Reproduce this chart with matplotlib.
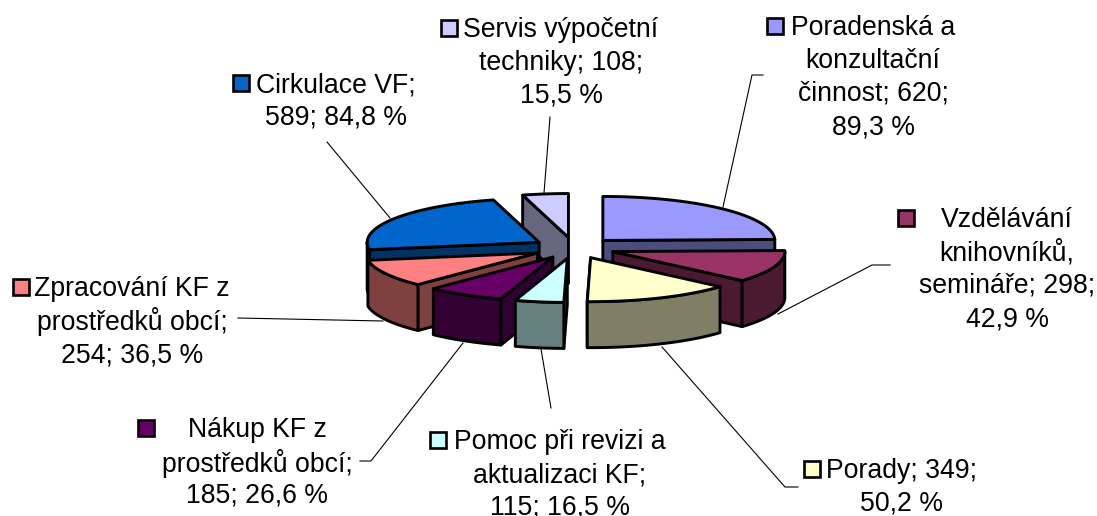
import numpy as np
import matplotlib
matplotlib.use("Agg")
import matplotlib.pyplot as plt
from matplotlib.patches import Polygon, Rectangle

plt.rcParams["font.family"] = ["Liberation Sans", "DejaVu Sans"]

# hodnoty z grafu
categories = ["Poradenská a konzultační činnost", "Vzdělávání knihovníků, semináře", "Porady",
              "Pomoc při revizi a aktualizaci KF", "Nákup KF z prostředků obcí",
              "Zpracování KF z prostředků obcí", "Cirkulace VF", "Servis výpočetní techniky"]
values = [620, 298, 349, 115, 185, 254, 589, 108]
percents = ["89,3", "42,9", "50,2", "16,5", "26,6", "36,5", "84,8", "15,5"]
top_colors = ["#9999FF", "#993366", "#FFFFCC", "#CCFFFF", "#660066", "#FF8080", "#0066CC", "#CCCCFF"]
wall_colors = ["#4C4C7F", "#4C1933", "#7F7F66", "#667F7F", "#330033", "#7F4040", "#003366", "#66667F"]

label_lines = [
    ["Poradenská a", "konzultační", "činnost; 620;", "89,3 %"],
    ["Vzdělávání", "knihovníků,", "semináře; 298;", "42,9 %"],
    ["Porady; 349;", "50,2 %"],
    ["Pomoc při revizi a", "aktualizaci KF;", "115; 16,5 %"],
    ["Nákup KF z", "prostředků obcí;", "185; 26,6 %"],
    ["Zpracování KF z", "prostředků obcí;", "254; 36,5 %"],
    ["Cirkulace VF;", "589; 84,8 %"],
    ["Servis výpočetní", "techniky; 108;", "15,5 %"],
]
# střed textu x, y prvního řádku, střed klíče x
label_pos = [(873, 25, 775), (1007, 217, 906), (901, 468, 812), (560, 439, 438),
             (257, 427, 146), (132, 286, 21), (336, 82, 241), (561, 27, 449)]
leaders = [
    [(763, 75), (752, 75), (723, 207)],
    [(890, 265), (872, 265), (778, 314)],
    [(798, 487), (785, 487), (662, 347)],
    [(551, 408), (541, 349)],
    [(360, 461), (371, 461), (463, 343)],
    [(238, 318), (383, 321)],
    [(327, 142), (390, 218)],
    [(550, 117), (544, 193)],
]

CX, CY = 574, 248
RX, RY = 172, 44
DEPTH = 46
EXPLODE = 0.24
LW = 2.1


def rim(theta, ox, oy, r=1.0):
    t = np.radians(theta)
    return np.column_stack([CX + ox + RX * r * np.sin(t), CY + oy - RY * r * np.cos(t)])


fig = plt.figure(figsize=(10.97, 5.16), dpi=100)
ax = fig.add_axes([0, 0, 1, 1])
ax.set_xlim(0, 1097)
ax.set_ylim(516, 0)
ax.axis("off")

angles = np.cumsum([0] + values) / sum(values) * 360
mids = (angles[:-1] + angles[1:]) / 2
# odzadu dopredu
order = np.argsort(-np.cos(np.radians(mids)))

for leader in leaders:
    xs, ys = zip(*leader)
    ax.plot(xs, ys, color="black", lw=0.8, zorder=1)

z = 2
for i in order:
    start, end = angles[i], angles[i + 1]
    m = np.radians(mids[i])
    ox = EXPLODE * RX * np.sin(m)
    oy = -EXPLODE * RY * np.cos(m)
    apex = rim(0, ox, oy, r=0)[0]
    down = np.array([0, DEPTH])

    walls = []
    if start >= 180:
        p = rim(start, ox, oy)[0]
        walls.append(np.array([apex, p, p + down, apex + down]))
    if end <= 181.2:
        p = rim(end, ox, oy)[0]
        walls.append(np.array([apex, p, p + down, apex + down]))
    lo, hi = max(start, 90), min(end, 270)
    if hi > lo:
        arc = rim(np.linspace(lo, hi, 40), ox, oy)
        walls.append(np.vstack([arc, arc[::-1] + down]))
    for w in walls:
        ax.add_patch(Polygon(w, closed=True, facecolor=wall_colors[i], edgecolor="black",
                             lw=LW, joinstyle="round", zorder=z))
        z += 1

    top = np.vstack([apex, rim(np.linspace(start, end, 60), ox, oy)])
    ax.add_patch(Polygon(top, closed=True, facecolor=top_colors[i], edgecolor="black",
                         lw=LW, joinstyle="round", zorder=z))
    z += 1

LINE_H = 33
for lines, (tx, ty, kx), color in zip(label_lines, label_pos, top_colors):
    for n, line in enumerate(lines):
        ax.text(tx, ty + n * LINE_H, line, ha="center", va="center_baseline", fontsize=19.2,
                color="black", zorder=100)
    ax.add_patch(Rectangle((kx - 8, ty - 7), 16, 16, facecolor=color, edgecolor="black",
                           lw=1.9, zorder=100))

fig.savefig("out.png", dpi=100)
plt.close(fig)
